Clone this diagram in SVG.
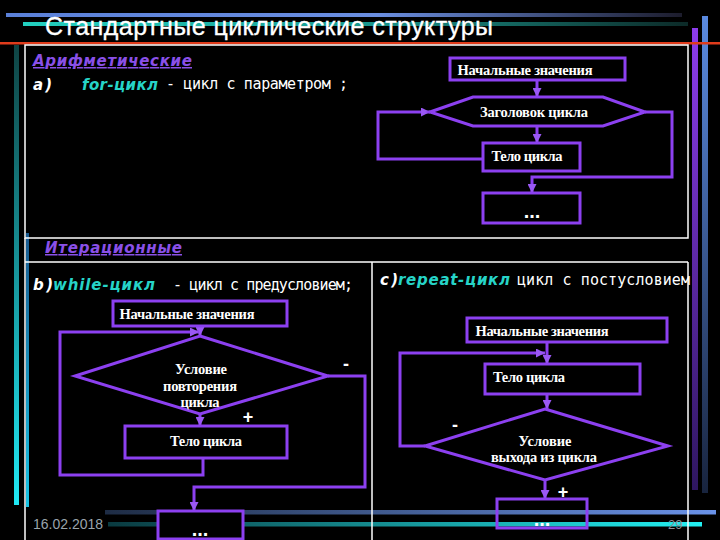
<svg xmlns="http://www.w3.org/2000/svg" width="720" height="540" viewBox="0 0 720 540">
<defs>
<linearGradient id="gTopBlue" x1="0" y1="0" x2="1" y2="0"><stop offset="0" stop-color="#5a80d8"/><stop offset="0.55" stop-color="#6a8ee0"/><stop offset="1" stop-color="#1c1c2c"/></linearGradient>
<linearGradient id="gTopCyan" x1="0" y1="0" x2="1" y2="0"><stop offset="0" stop-color="#22d0c0"/><stop offset="0.5" stop-color="#1a9a90"/><stop offset="1" stop-color="#0c2a28"/></linearGradient>
<linearGradient id="gLeft1" x1="0" y1="0" x2="0" y2="1"><stop offset="0" stop-color="#0f4444"/><stop offset="1" stop-color="#20e8f4"/></linearGradient>
<linearGradient id="gLeft2" x1="0" y1="0" x2="0" y2="1"><stop offset="0" stop-color="#1a5a90"/><stop offset="1" stop-color="#18c4e4"/></linearGradient>
<linearGradient id="gRightP" x1="0" y1="0" x2="0" y2="1"><stop offset="0" stop-color="#8c3cec"/><stop offset="1" stop-color="#2e1660"/></linearGradient>
<linearGradient id="gRightB" x1="0" y1="0" x2="0" y2="1"><stop offset="0" stop-color="#5a8ae0"/><stop offset="1" stop-color="#18243e"/></linearGradient>
<linearGradient id="gBotBlue" x1="0" y1="0" x2="1" y2="0"><stop offset="0" stop-color="#1e2c44"/><stop offset="1" stop-color="#6a92e8"/></linearGradient>
<linearGradient id="gBotCyan" x1="0" y1="0" x2="1" y2="0"><stop offset="0" stop-color="#0a3a40"/><stop offset="1" stop-color="#22f0f2"/></linearGradient>
<marker id="ah" viewBox="0 0 10 10" refX="10" refY="5" markerUnits="userSpaceOnUse" markerWidth="9" markerHeight="9" orient="auto"><path d="M0,0 L10,5 L0,10 z" fill="#9a58f4"/></marker>
<style>
.box{fill:#000;stroke:#8c40f0;stroke-width:3}
.ob{fill:none;stroke:#8c40f0;stroke-width:3}
.cn{fill:none;stroke:#8c40f0;stroke-width:3;marker-end:url(#ah)}
.bt{font-family:"Liberation Serif","Times New Roman",serif;font-weight:bold;font-size:14.5px;fill:#fff;text-anchor:middle}
.dt{font-family:"Liberation Sans",Arial,sans-serif;font-weight:bold;font-size:20px;fill:#fff;text-anchor:middle}
.hd{font-family:"DejaVu Sans",Verdana,sans-serif;font-weight:bold;font-style:italic;font-size:15px;fill:#8a50e8;text-decoration:underline}
.lb{font-family:"DejaVu Sans",Verdana,sans-serif;font-weight:bold;font-style:italic;font-size:15px;fill:#fff}
.cy{font-family:"DejaVu Sans",Verdana,sans-serif;font-weight:bold;font-style:italic;font-size:15px;fill:#26d4c8}
.mn{font-family:"DejaVu Sans Mono","Liberation Mono",monospace;font-size:15px;fill:#fff}
.sg{font-family:"Liberation Sans",Arial,sans-serif;font-weight:bold;font-size:18px;fill:#fff;text-anchor:middle}
.fr{stroke:#fff;stroke-width:1.5;fill:none}
</style>
</defs>
<rect width="720" height="540" fill="#000"/>
<g id="decor">
<rect x="6" y="13" width="676" height="4" fill="url(#gTopBlue)"/>
<rect x="23" y="22" width="665" height="4" fill="url(#gTopCyan)"/>
<rect x="14" y="45" width="5" height="460" fill="url(#gLeft1)"/>
<rect x="26" y="233" width="3" height="274" fill="url(#gLeft2)"/>
<rect x="692" y="28" width="6" height="462" fill="url(#gRightP)"/>
<rect x="702" y="16" width="6" height="477" fill="url(#gRightB)"/>
<rect x="0" y="42" width="720" height="2.5" fill="#e03c1c"/>
<rect x="105" y="510" width="611" height="4.5" fill="url(#gBotBlue)"/>
<rect x="108" y="522" width="594" height="4.5" fill="url(#gBotCyan)"/>
</g>
<text x="45" y="35" font-family="'Liberation Sans',Arial,sans-serif" font-size="25" fill="#fff" stroke="#fff" stroke-width="0.3" textLength="448">Стандартные циклические структуры</text>
<g id="frames">
<rect class="fr" x="25" y="45" width="663" height="193"/>
<line class="fr" x1="25" y1="262" x2="688" y2="262"/>
<line class="fr" x1="25" y1="238" x2="25" y2="540"/>
<line class="fr" x1="372" y1="262" x2="372" y2="540"/>
<line class="fr" x1="688" y1="262" x2="688" y2="540"/>
</g>
<g id="labels">
<text class="hd" x="33" y="66" textLength="159">Арифметические</text>
<text class="lb" x="33" y="90" textLength="19">a)</text>
<text class="cy" x="82" y="90" textLength="76">for-цикл</text>
<text class="mn" x="166" y="89" textLength="182">- цикл с параметром ;</text>
<text class="hd" x="45" y="253" textLength="137">Итерационные</text>
<text class="lb" x="33" y="290" textLength="20">b)</text>
<text class="cy" x="53" y="290" textLength="102">while-цикл</text>
<text class="mn" x="173" y="290" textLength="180">- цикл с предусловием;</text>
<text class="lb" x="380" y="285" textLength="18">c)</text>
<text class="cy" x="398" y="285" textLength="112">repeat-цикл</text>
<text class="mn" x="517" y="285" textLength="173">цикл с постусловием</text>
<text x="33" y="529" font-family="'Liberation Sans',Arial,sans-serif" font-size="14" fill="#9aa4ac">16.02.2018</text>
<text x="668" y="529" font-family="'Liberation Sans',Arial,sans-serif" font-size="13" fill="#8a9098">29</text>
</g>
<g id="connectors">
<path class="cn" d="M537,80 V97"/>
<path class="cn" d="M537,126 V143"/>
<path class="cn" d="M483,159 H378 V112 H430"/>
<path class="cn" d="M645,112 H672 V177 H532 V193"/>
<path class="cn" d="M200,326 V336"/>
<path class="cn" d="M203,458 V475 H60 V332 H199"/>
<path class="cn" d="M200,414 V426"/>
<path class="cn" d="M328,376 H365 V487 H194 V511"/>
<path class="cn" d="M547,342 V364"/>
<path class="cn" d="M425,446 H400 V353 H545"/>
<path class="cn" d="M547,394 V409"/>
<path class="cn" d="M545,480 V499"/>
</g>
<g id="for-init"><rect class="box" x="450" y="58" width="175" height="22"/><text class="bt" x="525" y="75" textLength="135">Начальные значения</text></g>
<g id="for-header"><polygon class="box" points="430,112 473,97 603,97 645,112 603,126 473,126"/><text class="bt" x="534" y="117" textLength="108">Заголовок цикла</text></g>
<g id="for-body"><rect class="box" x="483" y="143" width="97" height="28"/><text class="bt" x="527" y="161" textLength="71">Тело цикла</text></g>
<g id="for-next"><rect class="box" x="483" y="193" width="97" height="30"/><text class="dt" x="532" y="218">...</text></g>
<g id="while-init"><rect class="box" x="113" y="301" width="174" height="25"/><text class="bt" x="187" y="319" textLength="135">Начальные значения</text></g>
<g id="while-cond"><polygon class="box" points="200,336 328,376 200,414 75,376"/><text class="bt" x="201" y="374" textLength="52">Условие</text><text class="bt" x="200" y="391" textLength="74">повторения</text><text class="bt" x="200" y="407" textLength="39">цикла</text></g>
<g id="while-body"><rect class="box" x="125" y="426" width="162" height="32"/><text class="bt" x="206" y="446" textLength="72">Тело цикла</text></g>
<g id="while-next"><rect class="box" x="158" y="511" width="85" height="28"/><text class="dt" x="200" y="536">...</text></g>
<g id="repeat-init"><rect class="box" x="467" y="318" width="200" height="24"/><text class="bt" x="542" y="336" textLength="133">Начальные значения</text></g>
<g id="repeat-body"><rect class="box" x="485" y="364" width="155" height="30"/><text class="bt" x="529" y="382" textLength="72">Тело цикла</text></g>
<g id="repeat-cond"><polygon class="box" points="545,409 668,446 545,480 425,446"/><text class="bt" x="545" y="446" textLength="53">Условие</text><text class="bt" x="544" y="462" textLength="106">выхода из цикла</text></g>
<g id="repeat-next"><rect class="ob" x="497" y="499" width="90" height="29"/><text class="dt" x="542" y="526">...</text></g>
<g id="signs">
<text class="sg" x="346" y="370">-</text>
<text class="sg" x="248" y="423">+</text>
<text class="sg" x="455" y="431">-</text>
<text class="sg" x="563" y="498">+</text>
</g>
</svg>
